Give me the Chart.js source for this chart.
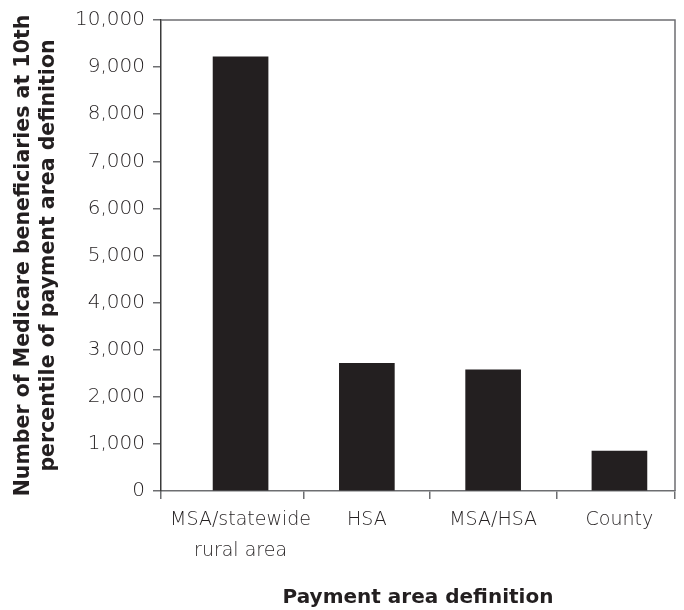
<!DOCTYPE html>
<html>
<head>
<meta charset="utf-8">
<script src="https://cdn.jsdelivr.net/npm/chart.js@4"></script>
<style>
  html, body { margin: 0; padding: 0; background: #ffffff; }
  #wrap { width: 684px; height: 610px; }
</style>
</head>
<body>
<div id="wrap"><canvas id="c" width="684" height="610"></canvas></div>
<script>
const categories = [["MSA/statewide", "rural area"], "HSA", "MSA/HSA", "County"];
const beneficiaries = [9220, 2710, 2570, 845];
const yTicks = [0, 1000, 2000, 3000, 4000, 5000, 6000, 7000, 8000, 9000, 10000];
const xTitle = "Payment area definition";
const yTitle = ["Number of Medicare beneficiaries at 10th", "percentile of payment area definition"];

const ink = "#231f20";
const frameGrey = "#6d6e71";

const framePlugin = {
  id: "frame",
  afterDatasetsDraw(chart) {
    const a = chart.chartArea, ctx = chart.ctx;
    ctx.save();
    ctx.strokeStyle = frameGrey;
    ctx.lineWidth = 1.5;
    ctx.beginPath();
    ctx.moveTo(a.left, a.top);
    ctx.lineTo(a.right, a.top);
    ctx.lineTo(a.right, a.bottom);
    ctx.stroke();
    ctx.restore();
  }
};

// category i sits at x = i on a numeric index axis
const points = beneficiaries.map((v, i) => ({ x: i, y: v }));

new Chart(document.getElementById("c"), {
  type: "bar",
  data: {
    datasets: [{
      data: points,
      backgroundColor: ink,
      borderWidth: 0,
      barThickness: 55
    }]
  },
  options: {
    responsive: false,
    animation: false,
    devicePixelRatio: 1,
    layout: { padding: { top: 18, right: 9, left: 0, bottom: 0 } },
    plugins: { legend: { display: false }, tooltip: { enabled: false } },
    scales: {
      x: {
        type: "linear",
        offset: false,
        min: -0.63,
        max: 3.44,
        afterBuildTicks(scale) {
          const vals = [scale.min];
          categories.forEach((c, i) => { vals.push(i); if (i < categories.length - 1) vals.push(i + 0.5); });
          vals.push(scale.max);
          scale.ticks = vals.map(v => ({ value: v }));
        },
        grid: {
          display: true, offset: false, drawOnChartArea: false, drawTicks: true, tickLength: 8, lineWidth: 1.5,
          color: ctx => (ctx.tick && Number.isInteger(ctx.tick.value)) ? "rgba(0,0,0,0)" : frameGrey
        },
        border: { display: true, color: frameGrey, width: 1.5 },
        ticks: {
          color: ink,
          padding: 6,
          maxRotation: 0,
          autoSkip: false,
          font: { family: "DejaVu Sans", size: 19, weight: 200, lineHeight: 1.6 },
          callback: v => Number.isInteger(v) ? categories[v] : ""
        },
        title: {
          display: true,
          text: xTitle,
          color: ink,
          font: { family: "DejaVu Sans", size: 20, weight: "bold" },
          padding: { top: 0, bottom: 0 }
        },
        afterFit(scale) { scale.height = 119; }
      },
      y: {
        min: 0,
        max: 10000,
        afterBuildTicks(scale) { scale.ticks = yTicks.map(v => ({ value: v })); },
        grid: { display: true, drawOnChartArea: false, drawTicks: true, tickLength: 8, color: frameGrey, lineWidth: 1.5 },
        border: { display: true, color: "#3a3a3a", width: 1.5 },
        ticks: {
          color: ink,
          padding: 8,
          font: { family: "DejaVu Sans", size: 20, weight: 200 },
          callback: v => v.toLocaleString("en-US")
        },
        title: {
          display: true,
          text: yTitle,
          color: ink,
          font: { family: "DejaVu Sans", size: 20.5, weight: "bold", lineHeight: 1.22 },
          padding: { top: 11, bottom: 0 }
        },
        afterFit(scale) { scale.width = 161; }
      }
    }
  },
  plugins: [framePlugin]
});
</script>
</body>
</html>
